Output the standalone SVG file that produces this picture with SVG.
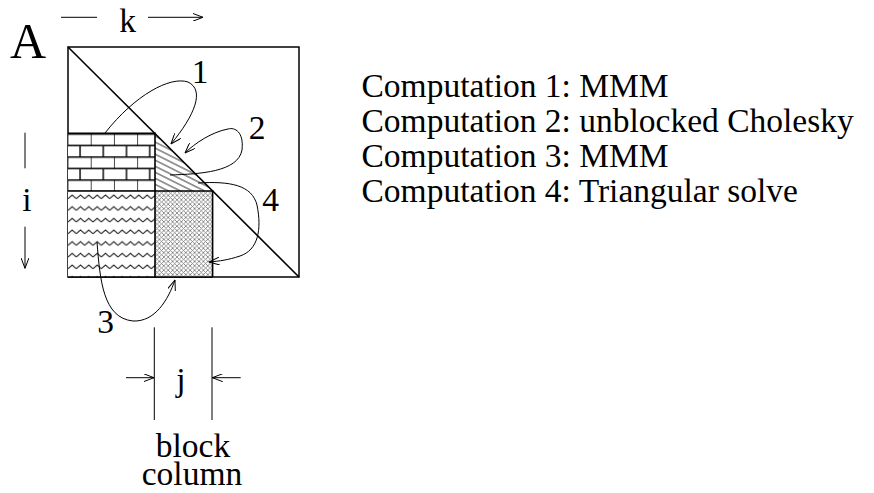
<svg xmlns="http://www.w3.org/2000/svg" width="874" height="493" viewBox="0 0 874 493">
<style>
text{font-family:"Liberation Serif","Times New Roman",serif;font-size:33.5px;fill:#000}
.mid{text-anchor:middle}
.ln{fill:none;stroke:#000;stroke-width:1}
.box{fill:none;stroke:#000;stroke-width:1.6}
.arr{fill:none;stroke:#000;stroke-width:1;marker-end:url(#ah)}
</style>
<defs>
<marker id="ah" viewBox="0 0 11 8" refX="10.5" refY="4" markerWidth="11" markerHeight="8" markerUnits="userSpaceOnUse" orient="auto">
<path d="M0,0 L10.5,4 L0,8" fill="none" stroke="#000" stroke-width="1"/>
</marker>
<pattern id="brick" patternUnits="userSpaceOnUse" x="68.5" y="133.3" width="23.2" height="23">
<rect width="23.2" height="23" fill="#fff"/>
<path d="M0,0.7 H23.2 M0,12.2 H23.2 M23.2,0 V11.5 M11.6,11.5 V23" stroke="#000" stroke-width="1.4" fill="none"/>
</pattern>
<pattern id="zig" patternUnits="userSpaceOnUse" x="68" y="191" width="8.33" height="11.67">
<rect width="8.33" height="11.67" fill="#fff"/>
<polyline points="0,7.6 4.17,4.1 8.33,7.6" fill="none" stroke="#000" stroke-width="1"/>
</pattern>
<pattern id="hatch" patternUnits="userSpaceOnUse" x="155" y="133" width="12" height="5.4" patternTransform="rotate(26.6 155 133)">
<rect width="12" height="5.4" fill="#fff"/>
<path d="M0,2.7 H12" stroke="#000" stroke-width="0.8"/>
</pattern>
<pattern id="cross" patternUnits="userSpaceOnUse" x="155" y="191" width="4.4" height="4.4">
<rect width="4.4" height="4.4" fill="#fff"/>
<path d="M0,0 L4.4,4.4 M0,4.4 L4.4,0" stroke="#777" stroke-width="0.8"/>
</pattern>
</defs>

<g id="matrix">
<rect x="68" y="47" width="231" height="230" fill="#fff" stroke="#000" stroke-width="1.5"/>
<rect id="brick-block" x="68" y="133.3" width="87" height="57.7" fill="url(#brick)"/>
<rect id="zig-block" x="68" y="191" width="87" height="86" fill="url(#zig)"/>
<polygon id="hatch-tri" points="155,133.6 155,191 212.6,191" fill="url(#hatch)"/>
<rect id="cross-block" x="155" y="191" width="57.6" height="86" fill="url(#cross)"/>
<path class="box" d="M68,133.3 H155 V277 M68,191 H212.6 V277 M68,277 H212.6"/>
<path d="M68,47 L299,277" stroke="#000" stroke-width="1.6"/>
</g>

<g id="connectors">
<path class="arr" d="M105,133 C135,95 170,76 188,82 C205,90 195,115 171,144"/>
<path class="arr" d="M170,175 C200,174 238,172 242,150 C244,132 235,127 228,129 C212,132 195,143 185,153"/>
<path class="arr" d="M198,183 C230,181 252,185 257,205 C262,230 258,250 240,256 C228,260 220,261 209,262"/>
<path class="arr" d="M97,242 C100,280 103,318 133,321 C155,322 168,300 175,280"/>
<path class="ln" d="M61,17.3 H97"/>
<path class="arr" d="M148,17.3 H203"/>
<path class="ln" d="M25,132.7 V168.3"/>
<path class="arr" d="M25,226.7 V268.3"/>
<path class="ln" d="M154.3,327.3 V420 M212,327.3 V420"/>
<path class="arr" d="M126,377.7 H154"/>
<path class="arr" d="M240.7,377.7 H212.3"/>
</g>

<g id="labels">
<text x="10" y="58" style="font-size:50px">A</text>
<text class="mid" x="127.5" y="31.7">k</text>
<text class="mid" x="27" y="210.5">i</text>
<text class="mid" x="181" y="391">j</text>
<text class="mid" x="200" y="83">1</text>
<text class="mid" x="257" y="139">2</text>
<text class="mid" x="270.5" y="211">4</text>
<text class="mid" x="105.5" y="333">3</text>
<text class="mid"><tspan x="193" y="456.5">block</tspan><tspan x="192" y="485">column</tspan></text>
</g>

<g id="legend">
<text x="361.5" y="96.5">Computation 1: MMM</text>
<text x="361.5" y="131.5">Computation 2: unblocked Cholesky</text>
<text x="361.5" y="167">Computation 3: MMM</text>
<text x="361.5" y="202">Computation 4: Triangular solve</text>
</g>
</svg>
